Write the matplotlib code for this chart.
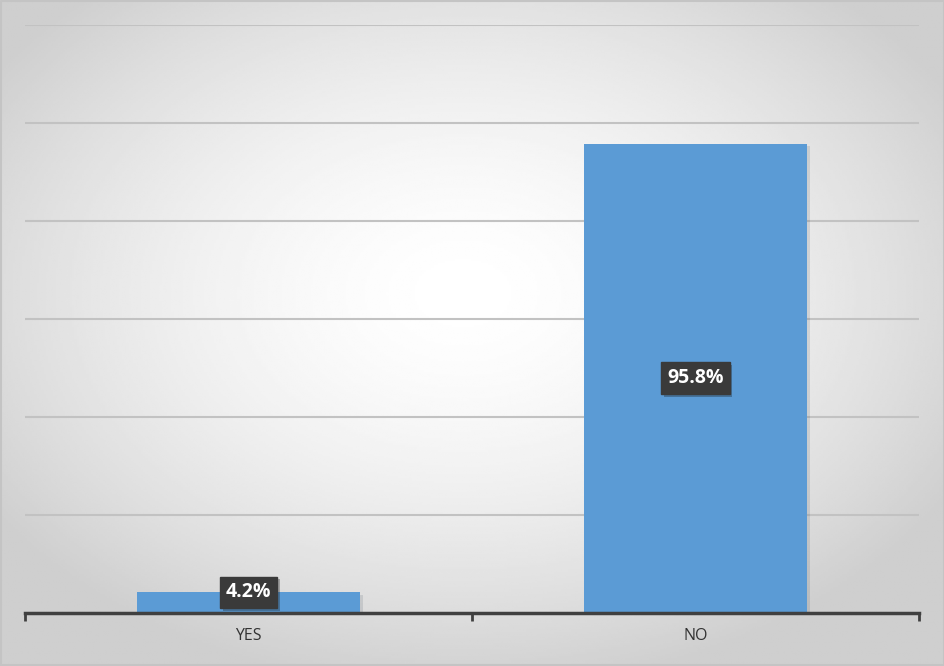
import numpy as np
import matplotlib.pyplot as plt
import matplotlib.patheffects as pe

# ----- Data -----
categories = ["YES", "NO"]
values = [4.2, 95.8]
labels = ["4.2%", "95.8%"]

# ----- Figure -----
fig = plt.figure(figsize=(9.45, 6.66), dpi=100)

# radial gradient background
bg = fig.add_axes([0, 0, 1, 1])
gx, gy = np.meshgrid(np.linspace(0, 1, 400), np.linspace(0, 1, 300))
r = np.sqrt(((gx - 0.49) / 0.8) ** 2 + ((gy - 0.56) / 0.8) ** 2)
shade = np.clip(1.0 - 0.19 * np.clip(r / 0.75, 0, 1) ** 1.6, 0, 1)
bg.imshow(shade, cmap="gray", vmin=0, vmax=1, extent=[0, 1, 0, 1],
          aspect="auto", interpolation="bilinear", origin="lower")
bg.plot([0.001, 0.999, 0.999, 0.001, 0.001], [0.001, 0.001, 0.999, 0.999, 0.001],
        color="#c4c4c4", lw=1.5)
bg.set_xlim(0, 1)
bg.set_ylim(0, 1)
bg.axis("off")

ax = fig.add_axes([25 / 945, 1 - 613 / 666, 894 / 945, 588 / 666])
ax.patch.set_alpha(0)

x = np.arange(len(categories))
bars = ax.bar(x, values, width=0.5, color="#5b9bd5", zorder=3,
              path_effects=[pe.SimplePatchShadow(offset=(2, -2), alpha=0.12), pe.Normal()])

ax.set_xlim(-0.5, 1.5)
ax.set_ylim(0, 120)
ax.set_yticks(np.arange(20, 121, 20))
ax.yaxis.grid(True, color="#c2c2c2", lw=1.5, zorder=1)
ax.tick_params(axis="y", left=False, labelleft=False)

for s in ["top", "right", "left"]:
    ax.spines[s].set_visible(False)
ax.spines["bottom"].set_color("#404040")
ax.spines["bottom"].set_linewidth(2.5)
ax.spines["bottom"].set_zorder(4)

ax.set_xticks([-0.5, 0.5, 1.5], minor=False)
ax.set_xticklabels([])
ax.tick_params(axis="x", direction="out", length=6, width=2, color="#404040")
ax.set_xticks(x, minor=True)
ax.set_xticklabels(categories, minor=True, fontsize=11.5, color="#333333", family="Open Sans")
ax.tick_params(axis="x", which="minor", length=0, pad=11)

for xi, v, lab in zip(x, values, labels):
    ypos = v / 2 if v > 10 else v
    ax.text(xi, ypos, lab, ha="center", va="center", color="white", fontsize=14,
            fontweight="bold", family="Open Sans", zorder=5,
            bbox=dict(boxstyle="square,pad=0.3", fc="#3a3a3a", ec="#3a3a3a",
                      path_effects=[pe.SimplePatchShadow(offset=(2, -2), alpha=0.3), pe.Normal()]))

plt.savefig("out.png")
